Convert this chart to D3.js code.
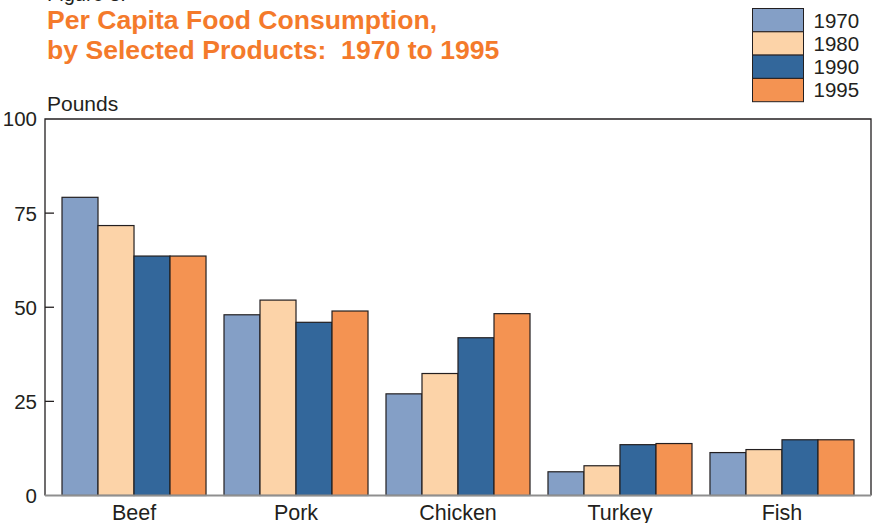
<!DOCTYPE html>
<html>
<head>
<meta charset="utf-8">
<script src="https://cdn.jsdelivr.net/npm/d3@7"></script>
<style>
  body { margin: 0; background: #fff; }
  svg { display: block; font-family: "Liberation Sans", Arial, sans-serif; }
</style>
</head>
<body>
<svg id="chart" width="872" height="523"></svg>
<script>
const categories = ["Beef", "Pork", "Chicken", "Turkey", "Fish"];
const years = ["1970", "1980", "1990", "1995"];
const values1970 = [79.2, 48.0, 27.0, 6.3, 11.4];
const values1980 = [71.7, 51.9, 32.4, 7.9, 12.2];
const values1990 = [63.6, 46.0, 41.9, 13.5, 14.8];
const values1995 = [63.6, 49.0, 48.3, 13.8, 14.8];
const yTicks = [0, 25, 50, 75, 100];

const series = {"1970": values1970, "1980": values1980, "1990": values1990, "1995": values1995};
const colors = {"1970": "#849fc6", "1980": "#fcd3a8", "1990": "#33679b", "1995": "#f49352"};

const svg = d3.select("#chart"),
    margin = {top: 119, right: 1, bottom: 27.5, left: 45},
    width = +svg.attr("width"),
    height = +svg.attr("height");

const x0 = d3.scaleBand()
    .domain(categories)
    .range([margin.left, width - margin.right])
    .paddingInner(0.111)
    .paddingOuter(0.105);

const x1 = d3.scaleBand()
    .domain(years)
    .range([0, x0.bandwidth()]);

const y = d3.scaleLinear()
    .domain([0, 100])
    .range([height - margin.bottom, margin.top]);

// titles (the figure number is cut by the top edge, as in the source)
svg.append("text")
    .attr("x", 47).attr("y", 1)
    .attr("font-size", 20).attr("fill", "#231f20")
    .text("Figure 3.");

const title = svg.append("text")
    .attr("font-size", 26.6).attr("font-weight", "bold")
    .attr("fill", "#f47a2b");
title.append("tspan").attr("x", 47).attr("y", 29)
    .text("Per Capita Food Consumption,");
title.append("tspan").attr("x", 47).attr("y", 58.5)
    .text("by Selected Products:\u00a0 1970 to 1995");

svg.append("text")
    .attr("x", 47).attr("y", 110.5)
    .attr("font-size", 21).attr("fill", "#231f20")
    .text("Pounds");

// frame
svg.append("path")
    .attr("fill", "none").attr("stroke", "#231f20").attr("stroke-width", 1.3)
    .attr("d", "M" + margin.left + "," + y(0) + "V" + y(100) + "H" + (width - margin.right) + "V" + y(0));

// bars
const groups = svg.append("g").selectAll("g")
    .data(categories)
    .join("g")
    .attr("transform", d => "translate(" + x0(d) + ",0)");

groups.selectAll("rect")
    .data((c, i) => years.map(yr => ({year: yr, val: series[yr][i]})))
    .join("rect")
    .attr("x", d => x1(d.year))
    .attr("y", d => y(d.val))
    .attr("width", x1.bandwidth())
    .attr("height", d => y(0) - y(d.val))
    .attr("fill", d => colors[d.year])
    .attr("stroke", "#231f20")
    .attr("stroke-width", 1.2);

// baseline
svg.append("line")
    .attr("x1", margin.left).attr("x2", width - margin.right)
    .attr("y1", y(0)).attr("y2", y(0))
    .attr("stroke", "#8f8f8f").attr("stroke-width", 2);

// y axis ticks (inward) and labels
const yAxis = svg.append("g").attr("class", "y-axis");
yAxis.selectAll("line")
    .data(yTicks.filter(t => t > 0 && t < 100))
    .join("line")
    .attr("x1", margin.left).attr("x2", margin.left + 9)
    .attr("y1", d => y(d)).attr("y2", d => y(d))
    .attr("stroke", "#231f20").attr("stroke-width", 1.3);
yAxis.selectAll("text")
    .data(yTicks)
    .join("text")
    .attr("x", 37)
    .attr("y", d => y(d))
    .attr("dy", "0.36em")
    .attr("text-anchor", "end")
    .attr("font-size", 20.5)
    .attr("fill", "#231f20")
    .text(d3.format("d"));

// category labels
svg.append("g").selectAll("text")
    .data(categories)
    .join("text")
    .attr("x", d => x0(d) + x0.bandwidth() / 2)
    .attr("y", 519.5)
    .attr("text-anchor", "middle")
    .attr("font-size", 21.5)
    .attr("fill", "#231f20")
    .text(d => d);

// legend
const legend = svg.append("g").attr("transform", "translate(752.5,8.5)");
const rowH = 23.3;
legend.selectAll("rect")
    .data(years)
    .join("rect")
    .attr("x", 0)
    .attr("y", (d, i) => i * rowH)
    .attr("width", 51)
    .attr("height", rowH)
    .attr("fill", d => colors[d])
    .attr("stroke", "#231f20")
    .attr("stroke-width", 1);
legend.selectAll("text")
    .data(years)
    .join("text")
    .attr("x", 61)
    .attr("y", (d, i) => i * rowH + rowH / 2)
    .attr("dy", "0.36em")
    .attr("font-size", 20.5)
    .attr("fill", "#231f20")
    .text(d => d);
</script>
</body>
</html>
